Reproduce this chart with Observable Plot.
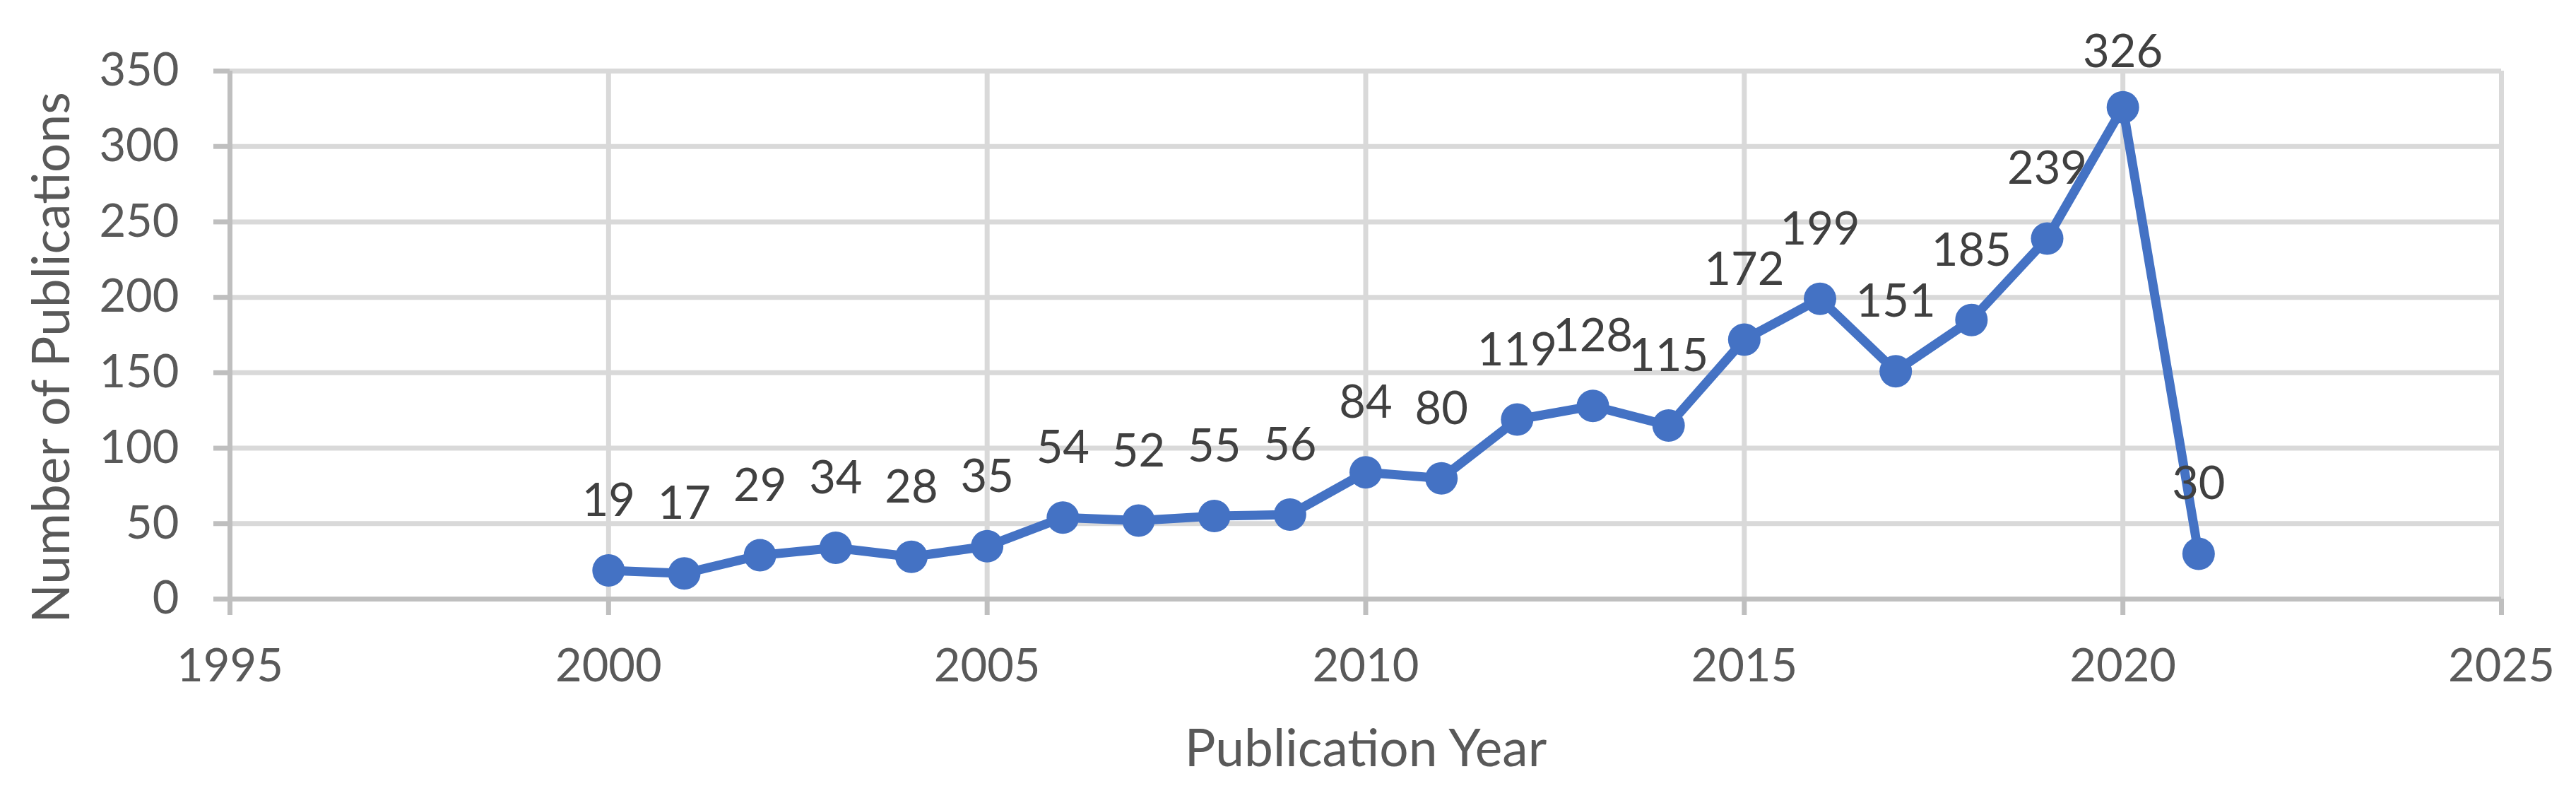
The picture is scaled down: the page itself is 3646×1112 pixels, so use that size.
<!DOCTYPE html>
<html>
<head>
<meta charset="utf-8">
<script src="https://cdn.jsdelivr.net/npm/d3@7"></script>
<script src="https://cdn.jsdelivr.net/npm/@observablehq/plot@0.6"></script>
<style>
  html, body { margin: 0; padding: 0; background: #ffffff; }
  #chart svg { display: block; }
</style>
</head>
<body>
<div id="chart"></div>
<script>
const years = [2000, 2001, 2002, 2003, 2004, 2005, 2006, 2007, 2008, 2009, 2010,
               2011, 2012, 2013, 2014, 2015, 2016, 2017, 2018, 2019, 2020, 2021];
const publications = [19, 17, 29, 34, 28, 35, 54, 52, 55, 56, 84,
                      80, 119, 128, 115, 172, 199, 151, 185, 239, 326, 30];
const xTicks = [1995, 2000, 2005, 2010, 2015, 2020, 2025];
const yTicks = [0, 50, 100, 150, 200, 250, 300, 350];
const xTitle = "Publication Year";
const yTitle = "Number of Publications";

const data = years.map((year, i) => ({year, value: publications[i]}));

const W = 3646, H = 1112;
const mL = 325, mR = 106, mT = 100, mB = 265;
const pxPerUnit = (H - mT - mB) / 350;
const labelGap = 77 / pxPerUnit;      // label baseline sits 77px above the point
const labelMax = 350 + 6 / pxPerUnit; // labels kept inside the chart area

const font = "Lato, 'Open Sans', sans-serif";
const fs = 65;
const titleFs = 73;

const chart = Plot.plot({
  width: W,
  height: H,
  marginLeft: mL,
  marginRight: mR,
  marginTop: mT,
  marginBottom: mB,
  style: {fontFamily: font, fontSize: fs + "px", background: "#ffffff", overflow: "visible"},
  x: {domain: [1995, 2025], axis: null},
  y: {domain: [0, 350], axis: null},
  marks: [
    Plot.gridY({ticks: yTicks, stroke: "#D9D9D9", strokeOpacity: 1, strokeWidth: 7}),
    Plot.gridX({ticks: xTicks, stroke: "#D9D9D9", strokeOpacity: 1, strokeWidth: 7}),
    Plot.ruleY([0], {stroke: "#BFBFBF", strokeWidth: 7}),
    Plot.ruleX([1995], {stroke: "#BFBFBF", strokeWidth: 7}),
    Plot.axisX({
      ticks: xTicks, tickFormat: d => String(d), tickSize: 23, tickPadding: 47,
      stroke: "#BFBFBF", strokeWidth: 7, fill: "#595959", fontSize: fs, label: null
    }),
    Plot.axisY({
      ticks: yTicks, tickFormat: d => String(d), tickSize: 23, tickPadding: 49,
      stroke: "#BFBFBF", strokeWidth: 7, fill: "#595959", fontSize: fs, label: null
    }),
    Plot.line(data, {x: "year", y: "value", stroke: "#4472C4", strokeWidth: 13,
      strokeLinejoin: "round", strokeLinecap: "round"}),
    Plot.dot(data, {x: "year", y: "value", r: 23, fill: "#4472C4", stroke: "none"}),
    Plot.text(data, {
      x: "year",
      y: d => Math.min(d.value + labelGap, labelMax),
      text: d => String(d.value),
      lineAnchor: "bottom",
      fill: "#404040",
      fontSize: fs
    }),
    Plot.text([xTitle], {
      frameAnchor: "bottom", text: d => d, lineAnchor: "bottom", textAnchor: "middle",
      dy: 236, fill: "#595959", fontSize: titleFs
    }),
    Plot.text([yTitle], {
      frameAnchor: "left", text: d => d, rotate: -90, lineAnchor: "top", textAnchor: "middle",
      dx: -279, dy: 32, fill: "#595959", fontSize: titleFs
    })
  ]
});

document.getElementById("chart").appendChild(chart);
</script>
</body>
</html>
